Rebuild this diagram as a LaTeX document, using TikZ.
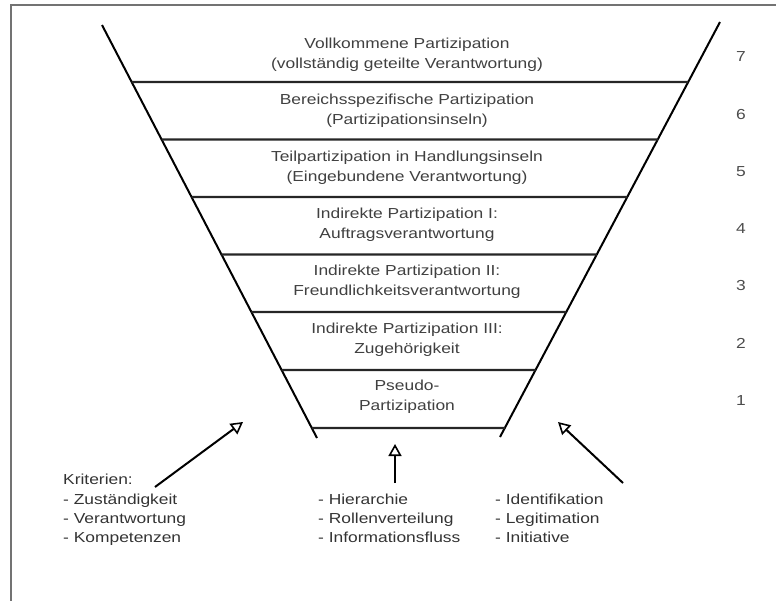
\documentclass[tikz,border=0pt]{standalone}
\usepackage{fontspec}
\setmainfont{Liberation Sans}[FakeStretch=1.2]
\usetikzlibrary{arrows.meta}
\begin{document}
\begin{tikzpicture}[x=1pt,y=-1pt,
  funnel/.style={line width=2pt,black},
  layerline/.style={line width=2.4pt,black!85},
  lbl/.style={font=\fontsize{14.5}{20}\selectfont,text=black!75,align=center,inner sep=0pt},
  num/.style={font=\fontsize{14.5}{16}\selectfont,text=black!70,inner sep=0pt},
  lst/.style={font=\fontsize{14.5}{19.3}\selectfont,text=black!80,align=left,anchor=north west,inner sep=0pt},
  openarrow/.style={line width=2pt,black,-{Triangle[open,length=12pt,width=13pt,line width=1.6pt]}}]
\useasboundingbox (0,0) rectangle (776,600);
% frame
\draw[line width=2pt,black!55] (11,601) -- (11,5) -- (777,5);
% funnel sides
\coordinate (Lt) at (102,25);
\coordinate (Lb) at (317,438);
\coordinate (Rt) at (720,22);
\coordinate (Rb) at (500,437);
\draw[funnel] (Lt) -- (Lb);
\draw[funnel] (Rt) -- (Rb);
\foreach \y in {82,139.5,197,254.5,312,370,428}{
  \draw[layerline] (intersection of Lt--Lb and 0,\y--10,\y) -- (intersection of Rt--Rb and 0,\y--10,\y);
}
% layer labels
\node[lbl] (l7) at (407,55) {Vollkommene Partizipation\\(vollständig geteilte Verantwortung)};
\node[lbl] (l6) at (407,111) {Bereichsspezifische Partizipation\\(Partizipationsinseln)};
\node[lbl] (l5) at (407,168) {Teilpartizipation in Handlungsinseln\\(Eingebundene Verantwortung)};
\node[lbl] (l4) at (407,225) {Indirekte Partizipation I:\\Auftragsverantwortung};
\node[lbl] (l3) at (407,282) {Indirekte Partizipation II:\\Freundlichkeitsverantwortung};
\node[lbl] (l2) at (407,340) {Indirekte Partizipation III:\\Zugehörigkeit};
\node[lbl] (l1) at (407,397) {Pseudo-\\Partizipation};
% numbers
\node[num] (n7) at (741,57) {7};
\node[num] (n6) at (741,115) {6};
\node[num] (n5) at (741,172) {5};
\node[num] (n4) at (741,229) {4};
\node[num] (n3) at (741,286) {3};
\node[num] (n2) at (741,343) {2};
\node[num] (n1) at (741,401) {1};
% bottom lists
\node[lst] (k) at (63,474) {Kriterien:\\- Zuständigkeit\\- Verantwortung\\- Kompetenzen};
\node[lst] (m) at (318,493.5) {- Hierarchie\\- Rollenverteilung\\- Informationsfluss};
\node[lst] (r) at (495,493.5) {- Identifikation\\- Legitimation\\- Initiative};
% arrows
\coordinate (a1s) at (155,487);
\coordinate (a1e) at (243,422);
\coordinate (a2s) at (395,483);
\coordinate (a2e) at (395,444);
\coordinate (a3s) at (623,483);
\coordinate (a3e) at (558,422);
\draw[openarrow] (a1s) -- (a1e);
\draw[openarrow] (a2s) -- (a2e);
\draw[openarrow] (a3s) -- (a3e);
\end{tikzpicture}
\end{document}
